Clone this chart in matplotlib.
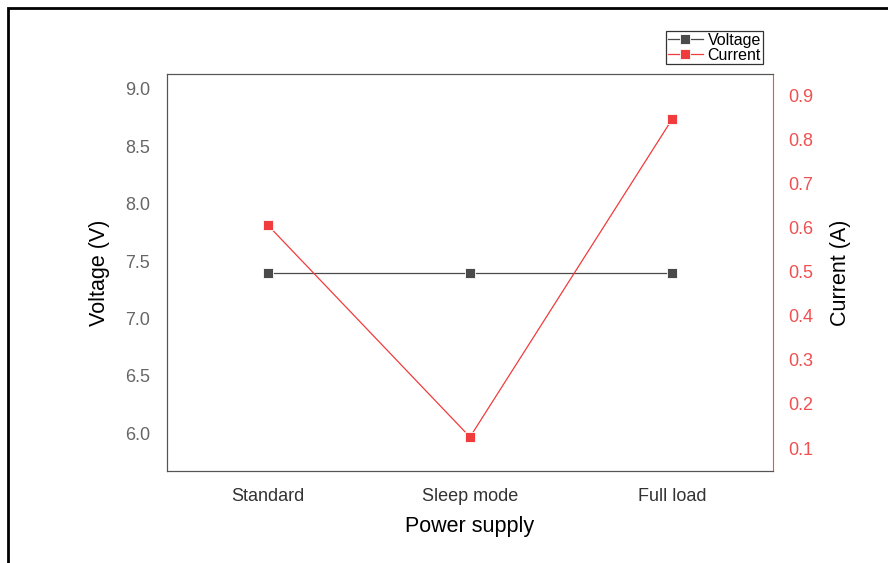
import matplotlib
matplotlib.use("Agg")
import matplotlib.pyplot as plt
from matplotlib.patches import Rectangle

modes = ["Standard", "Sleep mode", "Full load"]
voltage = [7.4, 7.4, 7.4]
current = [0.605, 0.125, 0.845]
v_ticks = [6.0, 6.5, 7.0, 7.5, 8.0, 8.5, 9.0]
i_ticks = [0.1, 0.2, 0.3, 0.4, 0.5, 0.6, 0.7, 0.8, 0.9]

plt.rcParams["font.family"] = ["Liberation Sans", "DejaVu Sans"]

W, H = 888, 563
fig = plt.figure(figsize=(W / 100, H / 100), dpi=100)
# outer frame around the figure
fig.patches.append(Rectangle((8 / W, -0.05), 1.0, 1 - 8 / H + 0.05,
                             transform=fig.transFigure, fill=False,
                             edgecolor="black", linewidth=2))

ax = fig.add_axes([167 / W, 1 - 471 / H, (773 - 167) / W, (471 - 74) / H])
ax2 = ax.twinx()

x = range(len(modes))
lv, = ax.plot(x, voltage, color="#4a4a4a", linewidth=0.9, marker="s",
              markersize=7.5, markerfacecolor="#4a4a4a", markeredgecolor="white",
              markeredgewidth=0.6, label="Voltage", zorder=3)
lc, = ax2.plot(x, current, color="#f03c3c", linewidth=0.9, marker="s",
               markersize=7.5, markerfacecolor="#f03c3c", markeredgecolor="white",
               markeredgewidth=0.6, label="Current")

ax.set_xlim(-0.5, 2.5)
ax.set_ylim(5.67, 9.13)
ax2.set_ylim(0.048, 0.948)
ax.set_xticks(list(x))
ax.set_xticklabels(modes, fontsize=13, color="#333333")
ax.set_yticks(v_ticks)
ax.set_yticklabels([f"{v:.1f}" for v in v_ticks], fontsize=13, color="#666666")
ax2.set_yticks(i_ticks)
ax2.set_yticklabels([f"{v:.1f}" for v in i_ticks], fontsize=13, color="#f05050")
ax.tick_params(axis="y", length=0, pad=12)
ax.tick_params(axis="x", length=0, pad=12)
ax2.tick_params(axis="y", length=0, pad=11)

for s in ["left", "bottom", "top"]:
    ax.spines[s].set_color("#555555")
    ax2.spines[s].set_color("#555555")
ax2.spines["right"].set_color("#f05050")
ax.spines["right"].set_visible(False)

ax.set_xlabel("Power supply", fontsize=15.5, labelpad=8)
ax.set_ylabel("Voltage (V)", fontsize=15.5, labelpad=11)
ax2.set_ylabel("Current (A)", fontsize=15.5, labelpad=12)

leg = fig.legend([lv, lc], ["Voltage", "Current"], loc="upper left",
                 bbox_to_anchor=(666 / W, 1 - 31 / H), fontsize=11.5,
                 frameon=True, fancybox=False, edgecolor="black",
                 handlelength=2.2, handletextpad=0.3, borderpad=0.1,
                 labelspacing=0.0, borderaxespad=0)
leg.get_frame().set_linewidth(0.9)

fig.savefig("out.png", dpi=100)
